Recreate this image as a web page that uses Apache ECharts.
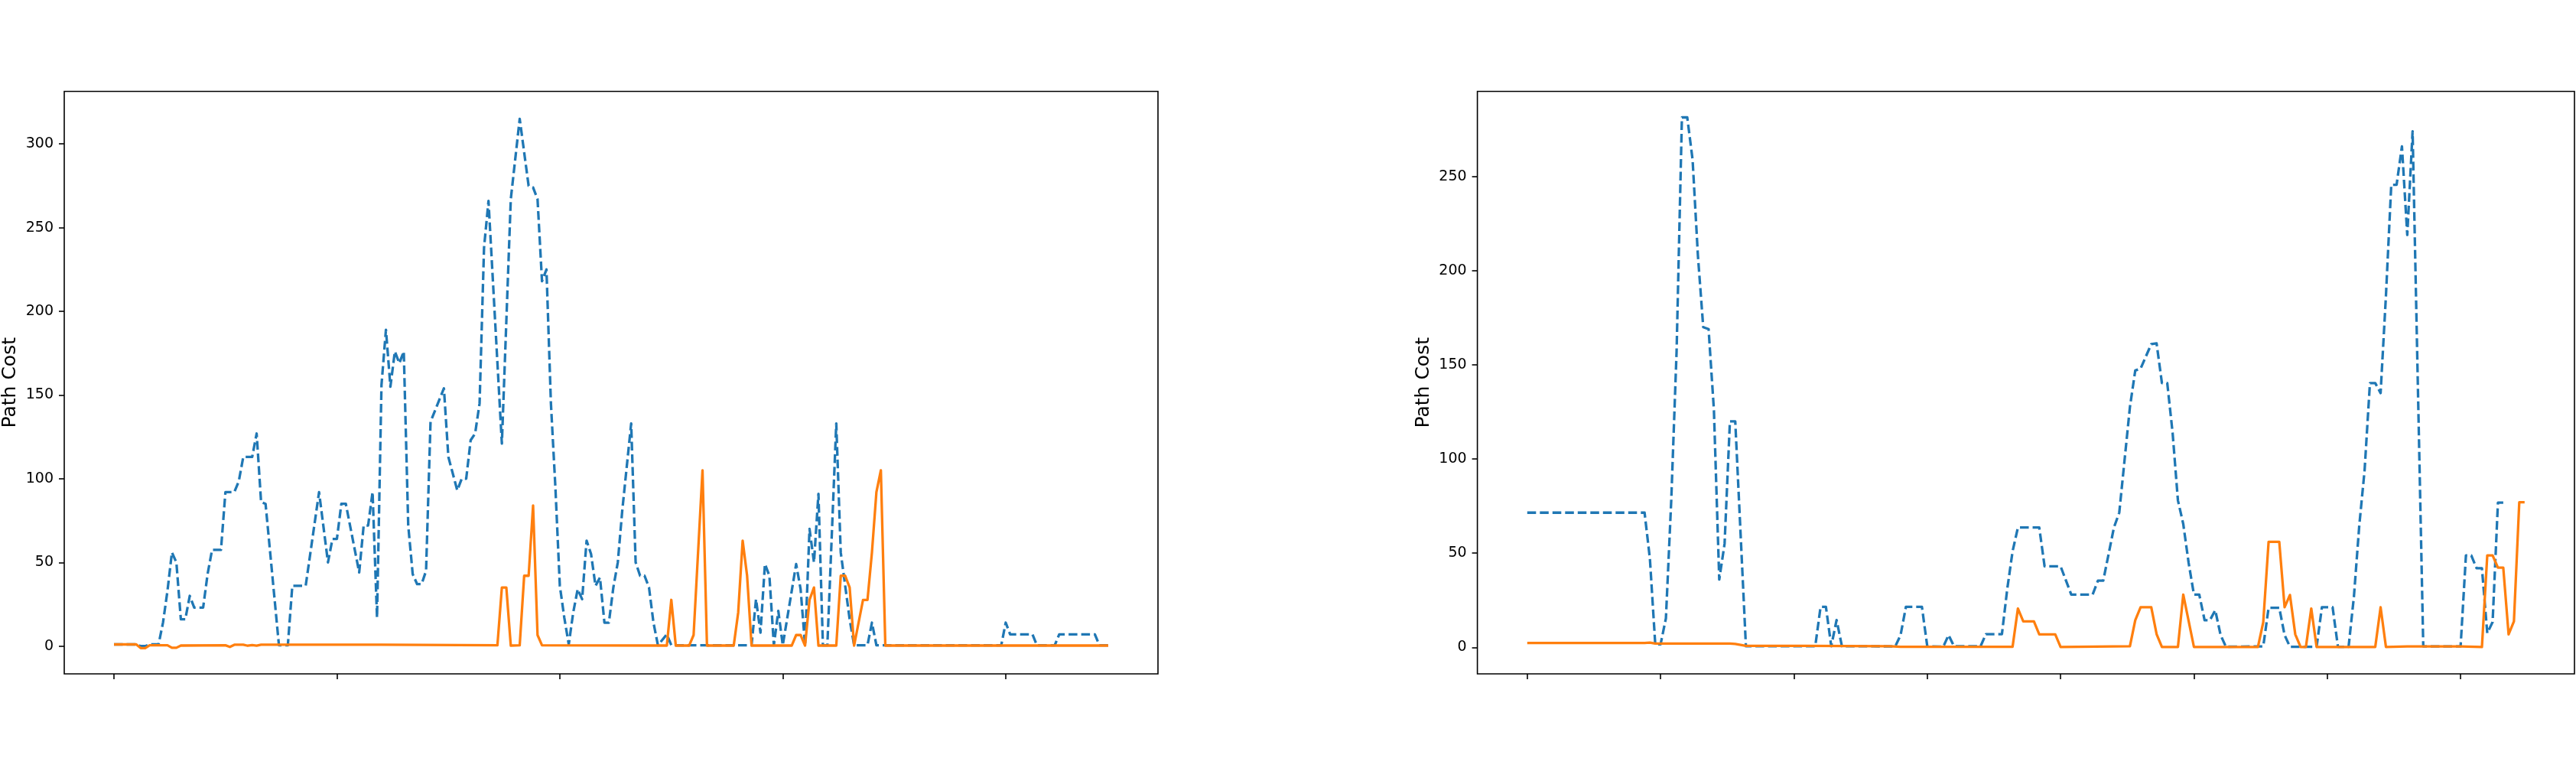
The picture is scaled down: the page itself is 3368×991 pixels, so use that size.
<!DOCTYPE html>
<html>
<head>
<meta charset="utf-8">
<title>Path Cost</title>
<script src="https://cdn.jsdelivr.net/npm/echarts@6/dist/echarts.min.js"></script>
<style>
  html, body { margin: 0; padding: 0; background: #fff; }
  #main { width: 3368px; height: 991px; }
</style>
</head>
<body>
<div id="main"></div>
<script>
// tick positions (x tick labels are hidden in the original figure)
const leftXTicks = [0, 50, 100, 150, 200]
const rightXTicks = [0, 25, 50, 75, 100, 125, 150, 175]
const leftYTicks = [0, 50, 100, 150, 200, 250, 300]
const rightYTicks = [0, 50, 100, 150, 200, 250]

// left panel, dashed blue series (step index -> path cost)
const leftBlueX = [0, 5, 6, 7, 8, 10, 11, 12, 13, 14, 15, 16, 17, 18, 20, 21, 22, 24, 25, 27,
  28, 29, 31, 32, 33, 34, 37, 39, 40, 43, 46, 48, 49, 50, 51, 52, 55, 56, 57, 58,
  59, 60, 61, 62, 63, 64, 65, 66, 67, 68, 69, 70, 71, 74, 75, 77, 78, 79, 80, 81,
  82, 83, 84, 87, 89, 91, 93, 94, 95, 96, 97, 98, 99, 100, 101, 102, 103, 104, 105, 106,
  107, 108, 109, 110, 111, 112, 113, 114, 115, 116, 117, 118, 119, 120, 121, 122, 124, 125, 143, 144,
  145, 146, 147, 148, 149, 150, 153, 154, 155, 156, 157, 158, 159, 160, 162, 163, 165, 166, 169, 170,
  171, 199, 200, 201, 206, 207, 211, 212, 220, 221, 223]
const leftBlueY = [1, 1, 0, 0, 1, 1, 14, 33, 56, 50, 16, 16, 30, 23, 23, 43, 57.5, 57.5, 92, 92,
  98.5, 113, 113, 127, 86, 85, 0.5, 0.5, 36, 36, 92, 50, 64, 64, 85, 85, 44, 72, 72, 92,
  17, 156, 189, 155, 176, 169, 176, 72, 43, 37, 37, 45, 134, 154, 113, 93, 100, 100, 123, 127,
  145, 238, 266, 121, 267, 315, 275, 274, 267, 218, 225, 145, 95, 36, 17, 1, 20, 34, 28, 63,
  55, 36, 41, 14, 14, 35, 50, 81, 107, 133, 50, 42, 42, 35, 14, 0.5, 7, 0.5, 0.5, 28,
  8, 49, 42, 0.5, 21, 0.5, 49, 34, 0.5, 70, 50, 91, 0.5, 0.5, 133, 56, 16, 0.5, 0.5, 14,
  0.5, 0.5, 14, 7, 7, 0.5, 0.5, 7, 7, 0.5, 0.5]

// left panel, solid orange series
const leftOrangeX = [0, 5, 6, 7, 8, 12, 13, 14, 15, 25, 26, 27, 29, 30, 31, 32, 33, 60, 86, 87,
  88, 89, 91, 92, 93, 94, 95, 96, 124, 125, 126, 129, 130, 132, 133, 139, 140, 141, 142, 143,
  152, 153, 154, 155, 156, 157, 158, 162, 163, 164, 165, 166, 168, 169, 170, 171, 172, 173, 223]
const leftOrangeY = [1, 1, -1.2, -1.2, 0.5, 0.5, -1, -1, 0.3, 0.5, -0.5, 0.8, 0.8, 0.2, 0.6, 0.3, 0.8, 0.8, 0.5, 35,
  35, 0.3, 0.5, 42, 42, 84, 6.6, 0.5, 0.3, 27.6, 0.3, 0.3, 6.6, 105, 0.3, 0.3, 20, 63, 42, 0.3,
  0.3, 6.6, 6.6, 0.3, 27.6, 35, 0.3, 0.3, 42, 42, 35, 0.3, 27.6, 27.6, 56, 92, 105, 0.3, 0.3]

// right panel, dashed blue series
const rightBlueX = [0, 22, 23, 24, 25, 26, 27, 28, 29, 30, 31, 32, 33, 34, 35, 36, 37, 38, 39, 41,
  54, 55, 56, 57, 58, 59, 69, 70, 71, 74, 75, 78, 79, 80, 85, 86, 89, 90, 91, 92,
  96, 97, 100, 102, 106, 107, 108, 110, 111, 113, 114, 115, 117, 118, 119, 120, 121, 122, 123, 124,
  125, 126, 127, 128, 129, 130, 131, 138, 139, 141, 142, 143, 148, 149, 151, 152, 154, 155, 156, 157,
  158, 159, 160, 161, 162, 163, 164, 165, 166, 168, 175, 176, 177, 178, 179, 180, 181, 182, 183]
const rightBlueY = [71.5, 71.5, 47, 1.6, 1.6, 15.4, 78, 157, 281.4, 281.4, 259, 208, 170, 169, 126, 36, 55, 120, 120, 0.6,
  0.6, 21.5, 21.5, 0.6, 14.5, 0.6, 0.5, 6.5, 21.5, 21.5, 0.6, 0.3, 6.5, 0.6, 0.6, 7, 7, 31, 51, 63.6,
  63.6, 43, 43, 28, 28, 35.4, 35.4, 63.6, 71.5, 127.6, 147, 148, 161, 161.4, 140.3, 140.3, 114, 78, 65.5, 45,
  28, 28, 14.4, 14.4, 19.7, 6.5, 0.3, 0.5, 21, 21, 6.5, 0.3, 0.3, 21.3, 21.3, 0.3, 0.3, 27, 64.6, 94,
  140.3, 140.3, 135, 186.6, 245.6, 245.6, 266, 219, 274, 0.5, 0.5, 48.8, 48.8, 42, 42, 7.5, 13.4, 76.8, 76.8]

// right panel, solid orange series
const rightOrangeX = [0, 22, 23, 24, 38, 39, 41, 52, 68, 70, 91, 92, 93, 95, 96, 99, 100, 113, 114, 115,
  117, 118, 119, 122, 123, 125, 137, 138, 139, 141, 142, 143, 144, 145, 146, 147, 148, 159, 160, 161,
  165, 175, 179, 180, 181, 182, 183, 184, 185, 186, 187]
const rightOrangeY = [2.3, 2.3, 2.5, 2, 2, 1.8, 0.8, 0.8, 0.6, 0.3, 0.3, 20.6, 13.8, 13.8, 6.9, 6.9, 0.2, 0.6, 14.4, 21.3,
  21.3, 7, 0.2, 0.2, 28, 0.2, 0.2, 13.4, 56, 56, 21.3, 27.8, 6.9, 0.2, 0.2, 20.6, 0.2, 0.2, 21.3, 0.2,
  0.5, 0.5, 0.2, 48.8, 48.8, 42.3, 42.3, 6.9, 13.8, 77, 77]

const BLUE = '#1f77b4'
const ORANGE = '#ff7f0e'
const FONT = 'DejaVu Sans'

function zip (xs, ys) {
  return xs.map((x, i) => [x, ys[i]])
}

function makeX (gridIndex, min, max, ticks) {
  return {
    gridIndex: gridIndex,
    type: 'value',
    position: 'bottom',
    min: min,
    max: max,
    axisLine: { show: false, onZero: false },
    splitLine: { show: false },
    axisTick: { show: true, length: 7, customValues: ticks, lineStyle: { color: '#000', width: 1.6 } },
    axisLabel: { show: false, customValues: ticks }
  }
}

function makeY (gridIndex, min, max, ticks) {
  return {
    gridIndex: gridIndex,
    type: 'value',
    position: 'left',
    min: min,
    max: max,
    name: 'Path Cost',
    nameLocation: 'middle',
    nameGap: 58,
    nameTextStyle: { fontSize: 25, color: '#000', fontFamily: FONT },
    axisLine: { show: false, onZero: false },
    splitLine: { show: false },
    axisTick: { show: true, length: 7, customValues: ticks, lineStyle: { color: '#000', width: 1.6 } },
    axisLabel: { customValues: ticks, margin: 14, fontSize: 19, color: '#000', fontFamily: FONT }
  }
}

function makeLine (axisIndex, xs, ys, color, dashed) {
  return {
    type: 'line',
    xAxisIndex: axisIndex,
    yAxisIndex: axisIndex,
    data: zip(xs, ys),
    showSymbol: false,
    symbol: 'none',
    silent: true,
    lineStyle: {
      color: color,
      width: 3.3,
      type: dashed ? [11.5, 5] : 'solid',
      join: 'round'
    }
  }
}

const gridBox = {
  show: true,
  borderColor: '#000',
  borderWidth: 1.6,
  backgroundColor: 'transparent',
  containLabel: false
}

const option = {
  animation: false,
  backgroundColor: '#fff',
  grid: [
    Object.assign({ left: 79, top: 119.5, width: 1435, height: 761.5 }, gridBox),
    Object.assign({ left: 1931.6, top: 119.5, width: 1434.4, height: 761.5 }, gridBox)
  ],
  xAxis: [
    makeX(0, -11.15, 234.15, leftXTicks),
    makeX(1, -9.35, 196.35, rightXTicks)
  ],
  yAxis: [
    makeY(0, -16.6, 331.4, leftYTicks),
    makeY(1, -14.1, 295.2, rightYTicks)
  ],
  series: [
    makeLine(0, leftBlueX, leftBlueY, BLUE, true),
    makeLine(0, leftOrangeX, leftOrangeY, ORANGE, false),
    makeLine(1, rightBlueX, rightBlueY, BLUE, true),
    makeLine(1, rightOrangeX, rightOrangeY, ORANGE, false)
  ]
}

const chart = echarts.init(document.getElementById('main'), null, { renderer: 'canvas' })
chart.setOption(option)
window.addEventListener('resize', chart.resize)
</script>
</body>
</html>
